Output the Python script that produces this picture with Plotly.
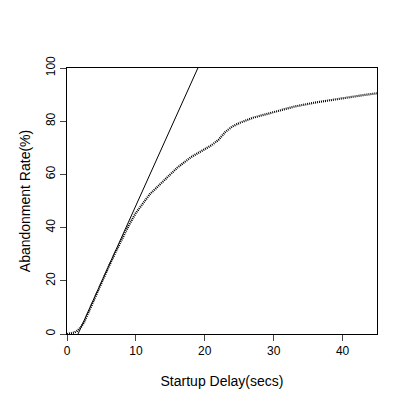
import plotly.graph_objects as go

# measured curve
delay = [0, 0.5, 1, 1.5, 2, 2.5, 3, 4, 5, 6, 7, 8, 9, 10, 11, 12, 14, 16, 18, 20, 21, 22, 23, 24, 25, 27, 30, 33, 36, 40, 43, 45]
abandon = [0, 0.2, 0.5, 1.2, 2.5, 4.5, 7.5, 13.5, 19.5, 25, 30.5, 36, 41, 45.5, 49.2, 52.5, 57.5, 62.5, 66.5, 69.5, 71, 73, 76, 78, 79.3, 81.3, 83.5, 85.5, 87, 88.7, 89.8, 90.5]

# linear fit line endpoints
fit_x = [1.6, 19]
fit_y = [0, 100]

fig = go.Figure()
fig.add_trace(go.Scatter(x=fit_x, y=fit_y, mode="lines", line=dict(color="black", width=1)))
fig.add_trace(go.Scatter(x=delay, y=abandon, mode="lines", line=dict(color="black", width=2.2, dash="1px,1px")))

fig.update_layout(
    width=400, height=400,
    paper_bgcolor="white", plot_bgcolor="white",
    showlegend=False,
    font=dict(family="Liberation Sans, Arial", size=12, color="black"),
    margin=dict(l=59, r=31, t=60, b=74, autoexpand=False),
    xaxis=dict(range=[0, 45], tickvals=[0, 10, 20, 30, 40], ticks="outside", ticklen=6, automargin=False,
               showgrid=False, zeroline=False, showline=True, linecolor="black", mirror=True,
               title=dict(text="Startup Delay(secs)", standoff=18)),
    yaxis=dict(range=[0, 100], tickvals=[0, 20, 40, 60, 80, 100], ticks="outside", ticklen=6, automargin=False,
               tickangle=-90, showgrid=False, zeroline=False, showline=True, linecolor="black", mirror=True,
               title=dict(text="Abandonment Rate(%)", standoff=10)),
)
fig.write_html("out.html")
